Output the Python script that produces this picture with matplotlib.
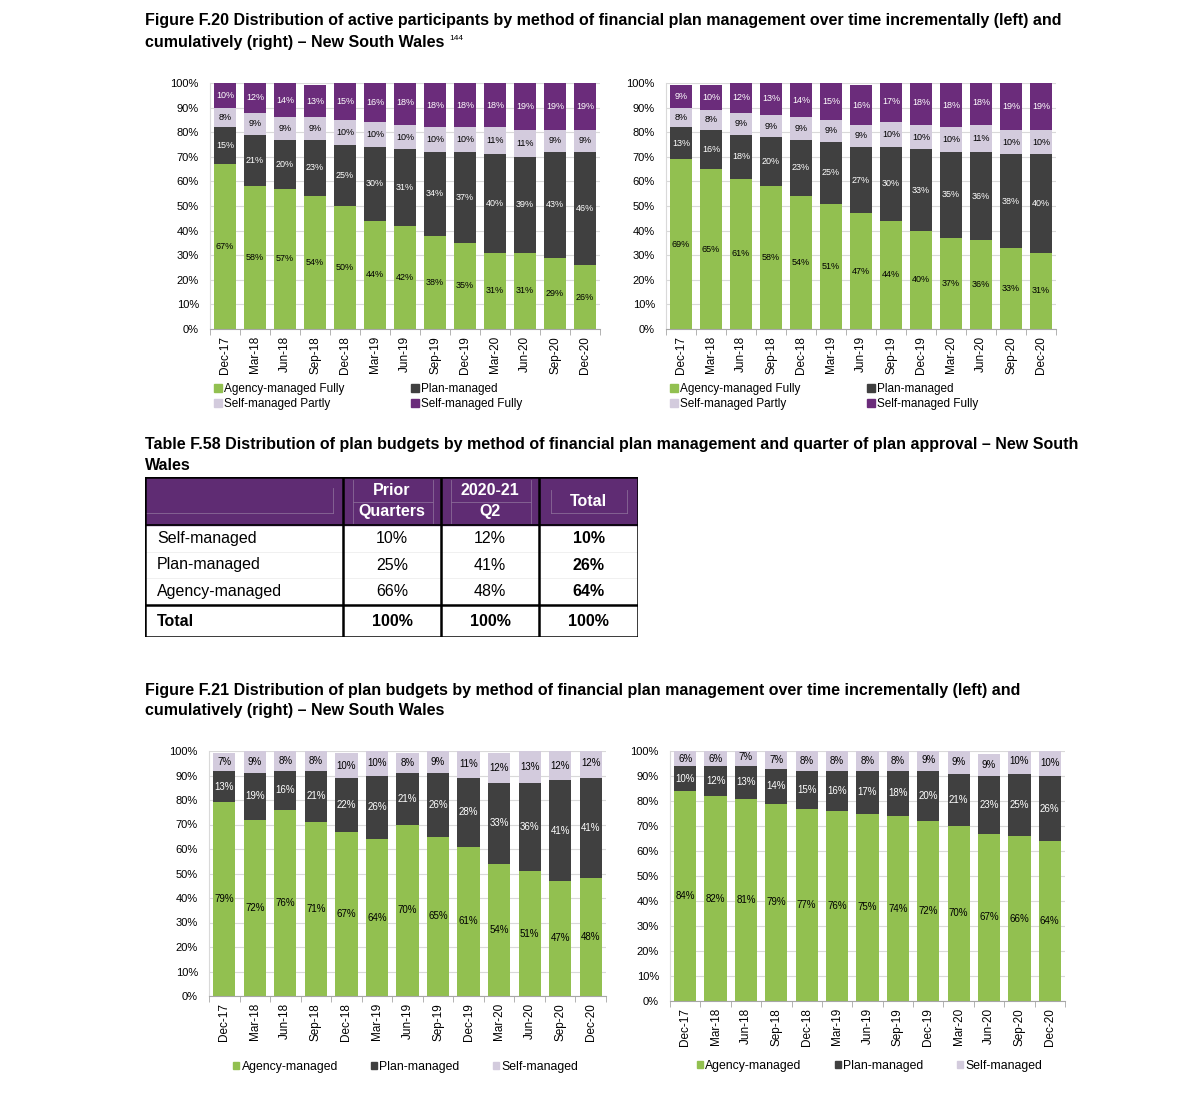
import matplotlib.pyplot as plt
import numpy as np
from matplotlib.patches import Rectangle

plt.rcParams['font.family'] = ['Liberation Sans', 'DejaVu Sans']

# Quarters
quarters = ['Dec-17', 'Mar-18', 'Jun-18', 'Sep-18', 'Dec-18', 'Mar-19', 'Jun-19',
            'Sep-19', 'Dec-19', 'Mar-20', 'Jun-20', 'Sep-20', 'Dec-20']

# Figure F.20 - participants, incremental (left)
inc_agency = [67, 58, 57, 54, 50, 44, 42, 38, 35, 31, 31, 29, 26]
inc_plan = [15, 21, 20, 23, 25, 30, 31, 34, 37, 40, 39, 43, 46]
inc_self_partly = [8, 9, 9, 9, 10, 10, 10, 10, 10, 11, 11, 9, 9]
inc_self_fully = [10, 12, 14, 13, 15, 16, 18, 18, 18, 18, 19, 19, 19]

# Figure F.20 - participants, cumulative (right)
cum_agency = [69, 65, 61, 58, 54, 51, 47, 44, 40, 37, 36, 33, 31]
cum_plan = [13, 16, 18, 20, 23, 25, 27, 30, 33, 35, 36, 38, 40]
cum_self_partly = [8, 8, 9, 9, 9, 9, 9, 10, 10, 10, 11, 10, 10]
cum_self_fully = [9, 10, 12, 13, 14, 15, 16, 17, 18, 18, 18, 19, 19]

# Figure F.21 - plan budgets, incremental (left)
bud_inc_agency = [79, 72, 76, 71, 67, 64, 70, 65, 61, 54, 51, 47, 48]
bud_inc_plan = [13, 19, 16, 21, 22, 26, 21, 26, 28, 33, 36, 41, 41]
bud_inc_self = [7, 9, 8, 8, 10, 10, 8, 9, 11, 12, 13, 12, 12]

# Figure F.21 - plan budgets, cumulative (right)
bud_cum_agency = [84, 82, 81, 79, 77, 76, 75, 74, 72, 70, 67, 66, 64]
bud_cum_plan = [10, 12, 13, 14, 15, 16, 17, 18, 20, 21, 23, 25, 26]
bud_cum_self = [6, 6, 7, 7, 8, 8, 8, 8, 9, 9, 9, 10, 10]

# Table F.58
table_cols = ['Prior\nQuarters', '2020-21\nQ2', 'Total']
table_rows = ['Self-managed', 'Plan-managed', 'Agency-managed']
table_prior = ['10%', '25%', '66%']
table_q2 = ['12%', '41%', '48%']
table_total = ['10%', '26%', '64%']
table_sum = ['100%', '100%', '100%']

GREEN = '#92C050'
DARK = '#404040'
LAVENDER = '#D3CBDD'
PURPLE = '#6B2C7B'
HEAD = '#5F2C73'

W, H = 1184, 1101
fig = plt.figure(figsize=(W / 100, H / 100), dpi=100)


def px_axes(left, top, right, bottom):
    return fig.add_axes([left / W, 1 - bottom / H, (right - left) / W, (bottom - top) / H])


def stacked(ax, series, colors, text_colors, label_size):
    x = np.arange(len(quarters))
    base = np.zeros(len(quarters))
    for vals, col, tc in zip(series, colors, text_colors):
        v = np.array(vals) / 100
        ax.bar(x, v, 0.73, bottom=base, color=col, zorder=2)
        for xi, b, h, lab in zip(x, base, v, vals):
            ax.text(xi, b + h / 2, f'{lab}%', ha='center', va='center',
                    fontsize=label_size, color=tc, zorder=3)
        base = base + v
    ax.set_xlim(-0.5, len(quarters) - 0.5)
    ax.set_ylim(0, 1)
    ax.set_yticks(np.arange(0, 1.01, 0.1))
    ax.set_yticklabels([f'{int(round(t * 100))}%' for t in np.arange(0, 1.01, 0.1)], fontsize=8)
    ax.set_xticks(x)
    ax.set_xticklabels(quarters, rotation=90, fontsize=8.5)
    ax.set_xticks(np.arange(-0.5, len(quarters)), minor=True)
    ax.tick_params(axis='x', which='major', length=0, pad=5)
    ax.tick_params(axis='x', which='minor', length=4, color='#A6A6A6')
    ax.tick_params(axis='y', length=0, pad=8)
    ax.yaxis.grid(True, color='#D9D9D9', linewidth=0.8, zorder=0)
    ax.set_axisbelow(True)
    for s in ['top', 'right']:
        ax.spines[s].set_visible(False)
    ax.spines['left'].set_color('#D9D9D9')
    ax.spines['bottom'].set_color('#A6A6A6')


# ---- Titles ----
title_kw = dict(fontsize=11.5, fontweight='bold', ha='left', va='center')
fig.text(145 / W, 1 - 21 / H, 'Figure F.20 Distribution of active participants by method of financial plan management over time incrementally (left) and', **title_kw)
fig.text(145 / W, 1 - 42 / H, 'cumulatively (right) – New South Wales', **title_kw)
fig.text(449 / W, 1 - 38 / H, '144', fontsize=6, ha='left', va='center')
fig.text(145 / W, 1 - 444 / H, 'Table F.58 Distribution of plan budgets by method of financial plan management and quarter of plan approval – New South', **title_kw)
fig.text(145 / W, 1 - 465 / H, 'Wales', **title_kw)
fig.text(145 / W, 1 - 690 / H, 'Figure F.21 Distribution of plan budgets by method of financial plan management over time incrementally (left) and', **title_kw)
fig.text(145 / W, 1 - 711 / H, 'cumulatively (right) – New South Wales', **title_kw)

# ---- Figure F.20 ----
four_cols = [GREEN, DARK, LAVENDER, PURPLE]
four_txt = ['black', 'white', 'black', 'white']
four_names = ['Agency-managed Fully', 'Plan-managed', 'Self-managed Partly', 'Self-managed Fully']

ax1 = px_axes(210, 83, 600, 329)
stacked(ax1, [inc_agency, inc_plan, inc_self_partly, inc_self_fully], four_cols, four_txt, 6.5)
ax2 = px_axes(666, 83, 1056, 329)
stacked(ax2, [cum_agency, cum_plan, cum_self_partly, cum_self_fully], four_cols, four_txt, 6.5)

order = [0, 2, 1, 3]
handles = [Rectangle((0, 0), 1, 1, color=four_cols[i]) for i in order]
names = [four_names[i] for i in order]
for ax in (ax1, ax2):
    ax.legend(handles, names, ncol=2, loc='upper left', bbox_to_anchor=(-0.003, -0.2),
              frameon=False, fontsize=8.5, handlelength=0.7, handleheight=0.7,
              handletextpad=0.2, columnspacing=5.6, labelspacing=0.3, borderaxespad=0)

# ---- Table F.58 ----
tax = px_axes(145, 477, 638, 637)
tax.set_xlim(145, 638)
tax.set_ylim(637, 477)
tax.axis('off')
col_x = [145, 343, 441, 539, 638]
row_y = [477, 525, 552, 578, 605, 637]
tax.add_patch(Rectangle((145, 477), 493, 48, color=HEAD, zorder=1))
# faint decorative lines in header
faint = '#8A6A98'
tax.plot([145, 333], [513, 513], color=faint, lw=0.6, zorder=2)
tax.plot([333, 333], [488, 513], color=faint, lw=0.6, zorder=2)
for c0, c1 in [(343, 441), (441, 539)]:
    tax.plot([c0 + 10, c1 - 8], [502, 502], color=faint, lw=0.6, zorder=2)
    tax.plot([c0 + 10, c0 + 10], [480, 523], color=faint, lw=0.6, zorder=2)
    tax.plot([c1 - 8, c1 - 8], [480, 523], color=faint, lw=0.6, zorder=2)
tax.plot([551, 551], [490, 513], color=faint, lw=0.6, zorder=2)
tax.plot([627, 627], [490, 513], color=faint, lw=0.6, zorder=2)
tax.plot([551, 627], [513, 513], color=faint, lw=0.6, zorder=2)

for j, name in enumerate(table_cols):
    cx = (col_x[j + 1] + col_x[j + 2]) / 2
    tax.text(cx, 501, name, ha='center', va='center', color='white',
             fontsize=11.5, fontweight='bold', linespacing=1.45, zorder=3)
for i, name in enumerate(table_rows):
    cy = (row_y[i + 1] + row_y[i + 2]) / 2
    tax.text(157, cy, name, ha='left', va='center', fontsize=11.5)
    for j, vals in enumerate([table_prior, table_q2, table_total]):
        cx = (col_x[j + 1] + col_x[j + 2]) / 2
        tax.text(cx, cy, vals[i], ha='center', va='center', fontsize=11.5,
                 fontweight='bold' if j == 2 else 'normal')
cy = (row_y[4] + row_y[5]) / 2
tax.text(157, cy, 'Total', ha='left', va='center', fontsize=11.5, fontweight='bold')
for j, v in enumerate(table_sum):
    cx = (col_x[j + 1] + col_x[j + 2]) / 2
    tax.text(cx, cy, v, ha='center', va='center', fontsize=11.5, fontweight='bold')

# body faint row lines
for yy in row_y[2:4]:
    tax.plot([145, 638], [yy, yy], color='#EEEEEE', lw=0.6, zorder=1)
# borders
tax.add_patch(Rectangle((145, 477), 493, 160, fill=False, ec='black', lw=1.8, zorder=4))
for xx in col_x[1:4]:
    tax.plot([xx, xx], [477, 637], color='black', lw=1.8, zorder=4)
tax.plot([145, 638], [525, 525], color='black', lw=1.2, zorder=4)
tax.plot([145, 638], [605, 605], color='black', lw=1.8, zorder=4)

# ---- Figure F.21 ----
three_cols = [GREEN, DARK, LAVENDER]
three_txt = ['black', 'white', 'black']
three_names = ['Agency-managed', 'Plan-managed', 'Self-managed']

ax3 = px_axes(209, 751, 606, 996)
stacked(ax3, [bud_inc_agency, bud_inc_plan, bud_inc_self], three_cols, three_txt, 7)
ax4 = px_axes(670, 751, 1065, 1001)
stacked(ax4, [bud_cum_agency, bud_cum_plan, bud_cum_self], three_cols, three_txt, 7)

handles3 = [Rectangle((0, 0), 1, 1, color=c) for c in three_cols]
ax3.legend(handles3, three_names, ncol=3, loc='upper center', bbox_to_anchor=(0.495, -0.245),
           frameon=False, fontsize=8.8, handlelength=0.5, handleheight=0.5,
           handletextpad=0.2, columnspacing=2.7, borderaxespad=0)
ax4.legend(handles3, three_names, ncol=3, loc='upper center', bbox_to_anchor=(0.505, -0.215),
           frameon=False, fontsize=8.8, handlelength=0.5, handleheight=0.5,
           handletextpad=0.2, columnspacing=2.7, borderaxespad=0)

fig.savefig('out.png', dpi=100, facecolor='white')
